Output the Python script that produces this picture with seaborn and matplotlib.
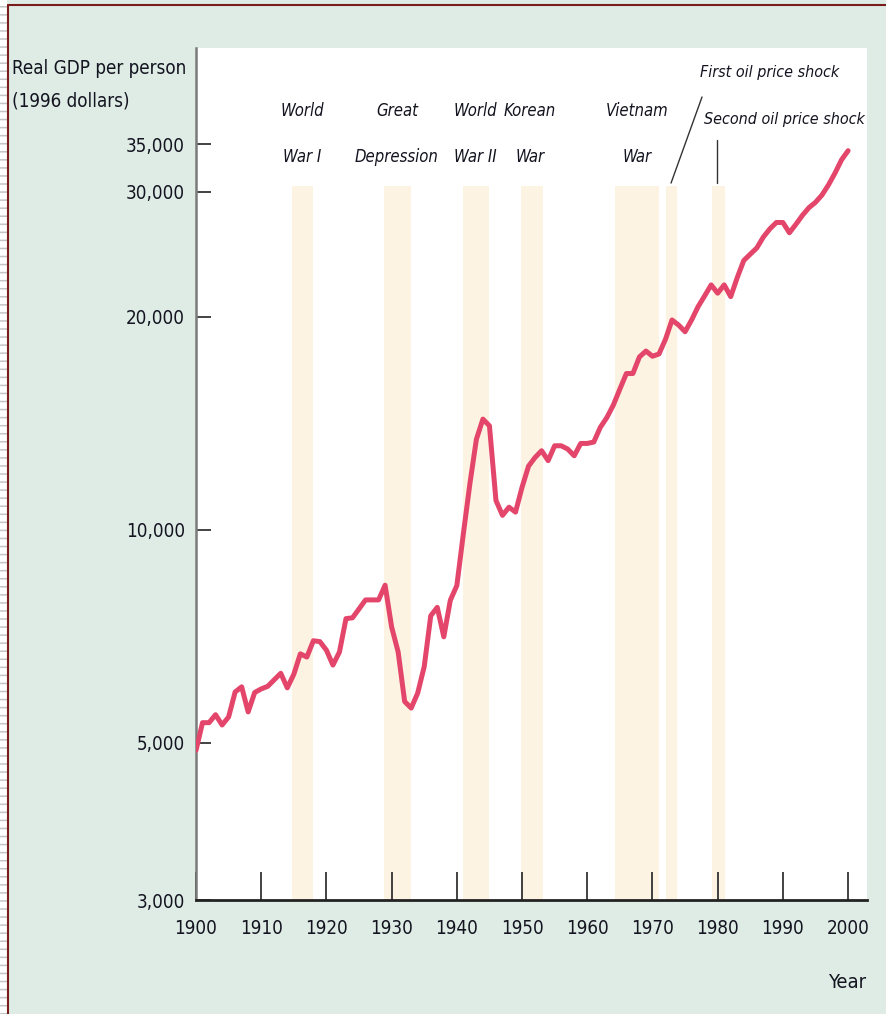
import matplotlib
matplotlib.use("Agg")
import matplotlib.pyplot as plt
import seaborn as sns
from matplotlib.patches import Rectangle
from matplotlib.lines import Line2D
from matplotlib.ticker import NullLocator

# -------------------------
# Data
# -------------------------
years = list(range(1900, 2001))
gdp = [4880, 5340, 5340, 5480, 5300, 5440, 5900, 6000, 5530, 5890,
       5960, 6010, 6140, 6270, 5980, 6250, 6680, 6610, 6970, 6950,
       6760, 6440, 6720, 7490, 7510, 7730, 7960, 7960, 7960, 8350,
       7290, 6720, 5720, 5600, 5880, 6410, 7560, 7770, 7060, 7950,
       8340, 9870, 11610, 13420, 14330, 14020, 11000, 10480, 10760, 10590,
       11480, 12300, 12650, 12930, 12520, 13140, 13140, 13000, 12720, 13240,
       13240, 13300, 13950, 14400, 15000, 15800, 16620, 16620, 17540, 17880,
       17580, 17710, 18580, 19780, 19460, 19040, 19780, 20660, 21390, 22170,
       21580, 22170, 21340, 22700, 24000, 24500, 25000, 25900, 26600, 27160,
       27160, 26270, 27000, 27800, 28500, 29000, 29700, 30700, 31900, 33300,
       34300]

y_ticks = [3000, 5000, 10000, 20000, 30000, 35000]
y_tick_labels = ["3,000", "5,000", "10,000", "20,000", "30,000", "35,000"]
x_ticks = list(range(1900, 2001, 10))

# shaded periods (start year, end year)
periods = [(1914.7, 1918.0), (1928.8, 1932.9), (1941.0, 1944.9), (1949.8, 1953.2),
           (1964.3, 1971.0), (1972.1, 1973.7), (1979.1, 1981.1)]
period_labels = ["World\nWar I", "Great\nDepression", "World\nWar II", "Korean\nWar",
                 "Vietnam\nWar"]
period_label_x = [1916.3, 1930.8, 1942.8, 1951.2, 1967.6]

# -------------------------
# Style
# -------------------------
sns.set_style("white")
plt.rcParams["font.family"] = ["DejaVu Sans"]
plt.rcParams["font.stretch"] = "condensed"
TXT = "#141420"
BG = "#deece5"

W, H = 887, 1014
fig = plt.figure(figsize=(W / 100, H / 100), dpi=100)
fig.patch.set_facecolor(BG)

# left page strip and frame
fig.add_artist(Rectangle((0, 0), 7.5 / W, 1, transform=fig.transFigure,
                         facecolor="white", edgecolor="none"))
fig.add_artist(Line2D([3.5 / W, 3.5 / W], [0, 1], transform=fig.transFigure,
                      color="#c4c4c4", lw=5, solid_capstyle="butt",
                      linestyle=(0, (0.22, 0.94))))
fig.add_artist(Line2D([8 / W, 8 / W], [0, 1 - 5 / H], transform=fig.transFigure,
                      color="#7b1c1c", lw=1.5))
fig.add_artist(Line2D([8 / W, 1], [1 - 5 / H, 1 - 5 / H], transform=fig.transFigure,
                      color="#7b1c1c", lw=1.5))

ax = fig.add_axes([196 / W, 1 - 900 / H, (867 - 196) / W, (900 - 48) / H])
ax.set_facecolor("white")

for (s, e) in periods:
    ax.axvspan(s, e, ymin=0, ymax=0.838, color="#fdf3e2", lw=0, zorder=0)

sns.lineplot(x=years, y=gdp, ax=ax, color="#e3466a", linewidth=3.6, zorder=3)

ax.set_yscale("log")
ax.set_ylim(3000, 47900)
ax.set_xlim(1900, 2002.9)
ax.yaxis.set_minor_locator(NullLocator())
ax.set_yticks(y_ticks)
ax.set_yticklabels(y_tick_labels)
ax.set_xticks(x_ticks)
ax.set_xticklabels([str(x) for x in x_ticks])
ax.tick_params(axis="y", direction="in", length=11, width=1.2, pad=8,
               labelsize=13.5, colors="#222", labelcolor=TXT, left=True)
ax.tick_params(axis="x", direction="in", length=20, width=1.2, pad=14,
               labelsize=13.5, colors="#222", labelcolor=TXT, bottom=True)
ax.set_xlabel("")
ax.set_ylabel("")

for side in ["top", "right"]:
    ax.spines[side].set_visible(False)
ax.spines["left"].set_color("#7a7a7a")
ax.spines["left"].set_linewidth(1.8)
ax.spines["bottom"].set_color("#222")
ax.spines["bottom"].set_linewidth(2.0)

# period labels
tr = ax.get_xaxis_transform()
for lab, xx in zip(period_labels, period_label_x):
    ax.text(xx, 0.899, lab, transform=tr, ha="center", va="center",
            fontsize=12, style="italic", color=TXT, linespacing=3.0)

ax.text(1988.0, 0.9718, "First oil price shock", transform=tr, ha="center",
        va="center", fontsize=11.5, style="italic", color=TXT)
ax.text(1990.3, 0.9155, "Second oil price shock", transform=tr, ha="center",
        va="center", fontsize=11.5, style="italic", color=TXT)
ax.plot([1977.6, 1972.85], [0.9425, 0.8415], transform=tr, color="#333", lw=1, clip_on=False)
ax.plot([1979.9, 1979.9], [0.892, 0.8415], transform=tr, color="#333", lw=1, clip_on=False)

# axis titles
fig.text(12 / W, 1 - 85 / H, "Real GDP per person\n(1996 dollars)", ha="left",
         va="center", fontsize=13.5, color=TXT, linespacing=1.9)
fig.text(866 / W, 1 - 982 / H, "Year", ha="right", va="center", fontsize=14.5, color=TXT)

fig.savefig("out.png", dpi=100, facecolor=fig.get_facecolor())
